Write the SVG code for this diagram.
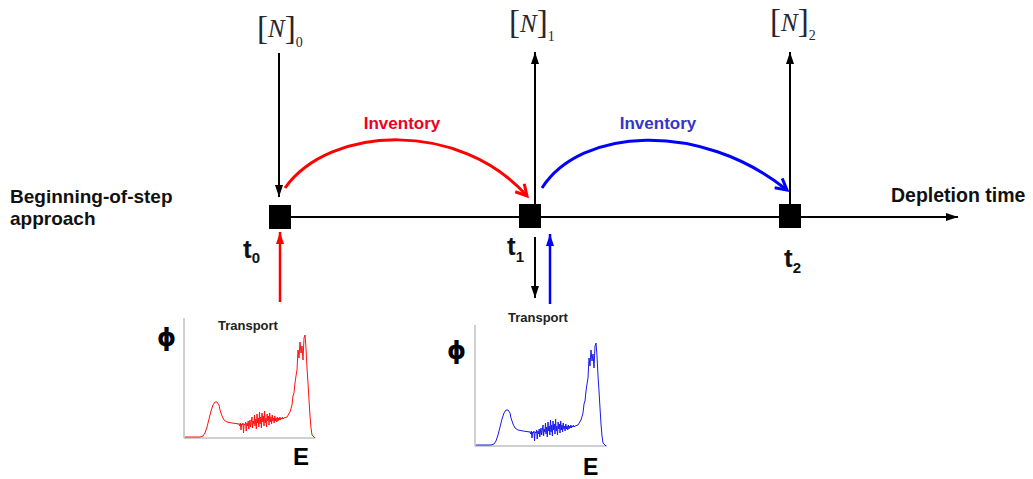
<svg xmlns="http://www.w3.org/2000/svg" xmlns:xlink="http://www.w3.org/1999/xlink" width="1033" height="479" viewBox="0 0 1033 479">
<style>
.lbl{font-family:"Liberation Sans",Arial,sans-serif;font-weight:bold;fill:#111}
.phi{font-family:"DejaVu Sans","Liberation Sans",sans-serif;font-weight:bold;fill:#000}
.br{font-family:"Liberation Serif","Times New Roman",serif;fill:#262633}
.ax{stroke:#a0a0a0;stroke-width:1;fill:none}
.blk{stroke:#000;stroke-width:2;fill:none}
</style>
<defs>
<marker id="ahK" markerUnits="userSpaceOnUse" markerWidth="14" markerHeight="10" refX="12" refY="4" orient="auto" overflow="visible"><path d="M0,0 L12,4 L0,8 z" fill="#000"/></marker>
<marker id="ahR" markerUnits="userSpaceOnUse" markerWidth="14" markerHeight="10" refX="12" refY="4" orient="auto" overflow="visible"><path d="M0,0 L12,4 L0,8 z" fill="#ff0000"/></marker>
<marker id="ahB" markerUnits="userSpaceOnUse" markerWidth="14" markerHeight="10" refX="12" refY="4" orient="auto" overflow="visible"><path d="M0,0 L12,4 L0,8 z" fill="#0000ff"/></marker>
<marker id="chR" markerUnits="userSpaceOnUse" markerWidth="14" markerHeight="14" refX="11" refY="6" orient="auto" overflow="visible"><path d="M0,0 L11,6 L0,12" fill="none" stroke="#ff0000" stroke-width="3"/></marker>
<marker id="chB" markerUnits="userSpaceOnUse" markerWidth="14" markerHeight="14" refX="11" refY="6" orient="auto" overflow="visible"><path d="M0,0 L11,6 L0,12" fill="none" stroke="#0000ff" stroke-width="3"/></marker>
<path id="spec" fill="none" stroke-width="1" stroke-linejoin="round" d="M1,-1 L16,-1 L19,-2 L21,-5 L23,-11 L25,-19 L27,-27 L29,-33 L31,-36 L33,-36 L35,-33 L36,-28 L38,-22 L40,-18 L43,-16 L48,-15 L55,-14 L55.7,-12 L56.3,-15 L57,-8 L57.6,-14 L58.2,-13 L59,-15 L59.5,-5 L60.1,-14 L61,-13 L61.6,-16 L62.2,-7 L62.9,-15 L63.5,-12 L64.2,-17 L64.8,-9 L65.5,-15 L66,-18 L66.7,-11 L67.3,-16 L68,-21 L68.6,-10 L69.2,-17 L69.9,-14 L70.5,-23 L71,-12 L71.7,-19 L72.3,-9 L73,-24 L73.6,-15 L74.2,-20 L74.9,-11 L75.5,-26 L76.1,-14 L76.8,-21 L77.4,-10 L78,-25 L78.7,-16 L79.3,-22 L80,-12 L80.6,-27 L81.2,-15 L81.9,-20 L82.5,-11 L83.1,-24 L83.8,-17 L84.4,-22 L85,-13 L85.7,-25 L86.3,-16 L87,-21 L87.6,-14 L88.2,-23 L88.9,-17 L89.5,-20 L90.1,-15 L90.8,-22 L91.4,-17 L92,-20 L92.7,-16 L93.3,-21 L94,-17 L94.6,-20 L95.2,-18 L95.9,-21 L96.5,-18 L97.1,-20 L97.8,-19 L98.4,-21 L99,-19 L100,-20 L103,-21 L106,-26 L108,-33 L109,-42 L110,-45 L111,-55 L112,-62 L113,-68 L114,-88 L115,-80 L116,-96 L117,-85 L118,-92 L119,-78 L120,-100 L121,-103 L122,-90 L123,-70 L124,-55 L125,-38 L126,-22 L127,-10 L128,-3 L130,-1 L131,0"/>
</defs>

<g id="connectors">
<line x1="280" y1="217" x2="958" y2="217" class="blk" marker-end="url(#ahK)"/>
<line x1="279" y1="53" x2="279" y2="197" class="blk" marker-end="url(#ahK)"/>
<line x1="535" y1="204" x2="535" y2="52" class="blk" marker-end="url(#ahK)"/>
<line x1="790" y1="204" x2="790" y2="52" class="blk" marker-end="url(#ahK)"/>
<line x1="535" y1="237" x2="535" y2="298" class="blk" marker-end="url(#ahK)"/>
<line x1="280" y1="302" x2="280" y2="232" stroke="#ff0000" stroke-width="2.5" marker-end="url(#ahR)"/>
<line x1="550" y1="304" x2="550" y2="234" stroke="#0000ff" stroke-width="2.5" marker-end="url(#ahB)"/>
<path d="M285,188 C330,125 460,120 527,196" fill="none" stroke="#ff0000" stroke-width="3" marker-end="url(#chR)"/>
<path d="M542,188 C580,128 700,120 787,190" fill="none" stroke="#0000ff" stroke-width="3" marker-end="url(#chB)"/>
</g>

<g id="t0">
<rect x="269" y="205" width="22" height="24" fill="#000"/>
<text class="lbl" x="243" y="258" font-size="26">t<tspan font-size="15" dy="5">0</tspan></text>
</g>
<g id="t1">
<rect x="519" y="204" width="22" height="24" fill="#000"/>
<text class="lbl" x="507" y="255" font-size="26">t<tspan font-size="15" dy="7">1</tspan></text>
</g>
<g id="t2">
<rect x="779" y="204" width="22" height="24" fill="#000"/>
<text class="lbl" x="784" y="267" font-size="26">t<tspan font-size="15" dy="6">2</tspan></text>
</g>

<g id="N0">
<text class="br" x="257" y="39" font-size="33">[<tspan font-size="25" font-style="italic" dy="-2">N</tspan><tspan dy="2">]</tspan><tspan font-size="14" dy="8">0</tspan></text>
</g>
<g id="N1">
<text class="br" x="509" y="33" font-size="33">[<tspan font-size="25" font-style="italic" dy="-1">N</tspan><tspan dy="1">]</tspan><tspan font-size="14" dy="8">1</tspan></text>
</g>
<g id="N2">
<text class="br" x="770" y="32" font-size="33">[<tspan font-size="25" font-style="italic" dy="-1">N</tspan><tspan dy="1">]</tspan><tspan font-size="14" dy="8">2</tspan></text>
</g>

<g id="inv-red"><text class="lbl" x="402" y="129" font-size="17" text-anchor="middle" style="fill:#ee0022">Inventory</text></g>
<g id="inv-blue"><text class="lbl" x="658" y="129" font-size="17" text-anchor="middle" style="fill:#3535c8">Inventory</text></g>

<g id="label-left">
<text class="lbl" x="10" y="203" font-size="19">Beginning-of-step</text>
<text class="lbl" x="10" y="225" font-size="19">approach</text>
</g>
<g id="label-right"><text class="lbl" x="891" y="202" font-size="19.5">Depletion time</text></g>

<g id="plot-red">
<text class="lbl" x="218" y="330" font-size="13" style="fill:#222">Transport</text>
<path class="ax" d="M184,318 V438 H315"/>
<use xlink:href="#spec" href="#spec" transform="translate(184,438)" stroke="#ff1010"/>
<text class="phi" x="157" y="346" font-size="24">ϕ</text>
<text class="lbl" x="293" y="465" font-size="24" style="fill:#000">E</text>
</g>
<g id="plot-blue">
<text class="lbl" x="508" y="322" font-size="13" style="fill:#222">Transport</text>
<path class="ax" d="M475,325 V446 H607"/>
<use xlink:href="#spec" href="#spec" transform="translate(475,446)" stroke="#1a1aee"/>
<text class="phi" x="447" y="359" font-size="24">ϕ</text>
<text class="lbl" x="583" y="475" font-size="23" style="fill:#000">E</text>
</g>
</svg>
